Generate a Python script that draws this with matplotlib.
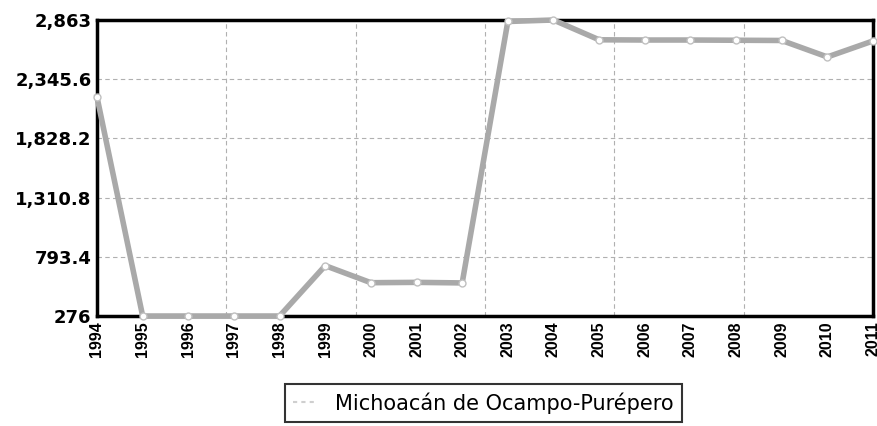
import numpy as np
import matplotlib.pyplot as plt

# Datos
years = list(range(1994, 2012))
values = [2190, 276, 276, 276, 276, 716, 567, 570, 565, 2850, 2863,
          2690, 2688, 2688, 2686, 2684, 2540, 2680]
serie = 'Michoacán de Ocampo-Purépero'
y_ticks = [276, 793.4, 1310.8, 1828.2, 2345.6, 2863]
y_labels = ['276', '793.4', '1,310.8', '1,828.2', '2,345.6', '2,863']

fig = plt.figure(figsize=(8.77, 4.26), dpi=100)
ax = fig.add_axes([97 / 877, 1 - 316 / 426, 776 / 877, 296 / 426])

ax.plot(years, values, color='#a9a9a9', linewidth=4, solid_joinstyle='round',
        marker='o', markersize=5, markerfacecolor='white', markeredgecolor='#c0c0c0',
        markeredgewidth=1, label=serie, zorder=3, clip_on=False)

ax.set_xlim(1994, 2011)
ax.set_ylim(276, 2863)
ax.set_yticks(y_ticks)
ax.set_yticklabels(y_labels, fontsize=13, fontweight='bold')
ax.set_xticks(years)
ax.set_xticklabels([str(y) for y in years], rotation=90, fontsize=11.5,
                   fontweight='bold', family='Liberation Sans')
ax.tick_params(length=0, pad=4)

# rejilla: horizontales en los ticks, verticales en sextos del rango
for y in y_ticks[1:-1]:
    ax.axhline(y, color='#b0b0b0', linewidth=0.8, linestyle=(0, (4, 3)), zorder=1)
for x in np.linspace(1994, 2011, 7)[1:-1]:
    ax.axvline(x, color='#b0b0b0', linewidth=0.8, linestyle=(0, (4, 3)), zorder=1)

for s in ax.spines.values():
    s.set_linewidth(2.5)
    s.set_color('black')

leg = fig.legend(loc='center', bbox_to_anchor=(483.5 / 877, 1 - 403 / 426),
                 fontsize=15, frameon=True, fancybox=False, handlelength=1.0,
                 borderpad=0.4, handletextpad=1.0, borderaxespad=0)
leg.get_frame().set_edgecolor('black')
leg.get_frame().set_linewidth(1.5)
for h in leg.get_lines():
    h.set_linewidth(1.5)
    h.set_linestyle((0, (2, 2)))
    h.set_color('#cfcfcf')
    h.set_marker('')

fig.savefig('out.png', dpi=100)
